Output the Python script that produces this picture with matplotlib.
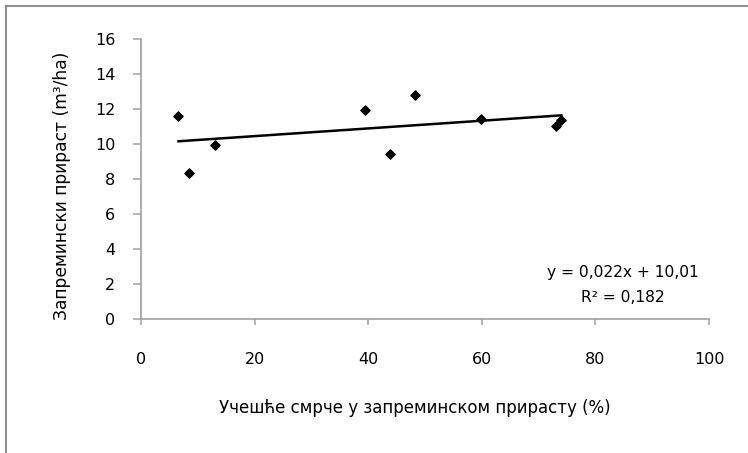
import numpy as np
import matplotlib.pyplot as plt
from matplotlib.patches import Rectangle

plt.rcParams['font.family'] = ['Liberation Sans Narrow', 'DejaVu Sans']

# Учешће смрче (%) and запремински прираст (m3/ha)
share = [6.6, 8.4, 13.1, 39.5, 43.8, 48.3, 59.9, 73.1, 74.0]
increment = [11.6, 8.33, 9.92, 11.94, 9.41, 12.78, 11.43, 11.01, 11.37]
slope, intercept = 0.022, 10.01
r2_text = "R² = 0,182"
eq_text = "y = 0,022x + 10,01"
x_ticks = [0, 20, 40, 60, 80, 100]
y_ticks = [0, 2, 4, 6, 8, 10, 12, 14, 16]

fig = plt.figure(figsize=(7.48, 4.53), dpi=100)
ax = fig.add_axes([141 / 748, 1 - 319 / 453, 568 / 748, 280 / 453])

ax.scatter(share, increment, marker='D', s=22, color='black', zorder=3)
xl = np.array([min(share), max(share)])
ax.plot(xl, slope * xl + intercept, color='black', lw=1.8)

ax.set_xlim(0, 100)
ax.set_ylim(0, 16)
ax.set_xticks(x_ticks)
ax.set_yticks(y_ticks)
for s in ['top', 'right']:
    ax.spines[s].set_visible(False)
for s in ['left', 'bottom']:
    ax.spines[s].set_color('#a0a0a0')
    ax.spines[s].set_linewidth(1.2)
ax.tick_params(axis='x', direction='out', length=4.5, width=1.1, color='#a0a0a0', pad=19, labelsize=11.5)
ax.tick_params(axis='y', direction='out', length=5.5, width=1.1, color='#a0a0a0', pad=13, labelsize=11.5)

ax.set_xlabel("Учешће смрче у запреминском прирасту (%)", fontsize=12)
ax.xaxis.set_label_coords((415 - 141) / 568, (319 - 408) / 280)
ax.xaxis.label.set_va('center')
ax.set_ylabel("Запремински прираст (m³/ha)", fontsize=12.3)
ax.yaxis.set_label_coords((62 - 141) / 568, (319 - 186) / 280)
ax.yaxis.label.set_va('center')

fig.text(623 / 748, 1 - 272 / 453, eq_text, ha='center', va='center', fontsize=11.2)
fig.text(623 / 748, 1 - 297 / 453, r2_text, ha='center', va='center', fontsize=11.2)

fig.patches.append(Rectangle((6 / 748, -0.1), 1.2, 1 - 6 / 453 + 0.1, transform=fig.transFigure,
                             fill=False, edgecolor='#909090', lw=1.5))

fig.savefig("out.png", dpi=100)
